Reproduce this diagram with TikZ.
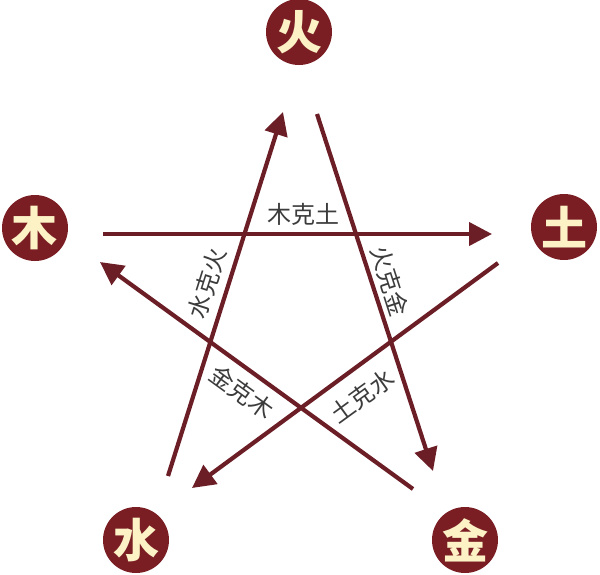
\documentclass[tikz,border=0pt]{standalone}
\usepackage{fontspec}
\newfontfamily\cjk{Noto Sans CJK SC}
\usetikzlibrary{arrows.meta}
\definecolor{circred}{RGB}{122,30,36}
\definecolor{arrred}{RGB}{108,30,38}
\definecolor{cream}{RGB}{252,242,198}
\definecolor{labgrey}{RGB}{60,60,60}
\tikzset{
  elem/.style={circle, fill=circred, minimum size=66pt, inner sep=0pt, text=cream,
    font=\cjk\bfseries\fontsize{46}{46}\selectfont},
  kearrow/.style={draw=arrred, line width=4.2pt, -{Triangle[length=23pt,width=23pt]}},
  kelabel/.style={text=labgrey, inner sep=0pt, font=\cjk\fontsize{24}{24}\selectfont}
}
\begin{document}
\begin{tikzpicture}[x=1pt,y=-1pt]
\useasboundingbox (0,0) rectangle (600,574);
% elements
\node[elem] (huo) at (299,32) {火};
\node[elem] (mu) at (35,228) {木};
\node[elem] (tu) at (564,227) {土};
\node[elem] (shui) at (136,540) {水};
\node[elem] (jin) at (465,540) {金};
% arrow ends
\coordinate (a1s) at (103,234); \coordinate (a1e) at (492,234);
\coordinate (a2s) at (317,114); \coordinate (a2e) at (433,471);
\coordinate (a3s) at (498,263); \coordinate (a3e) at (192,488);
\coordinate (a4s) at (413,489); \coordinate (a4e) at (100,262);
\coordinate (a5s) at (168,476); \coordinate (a5e) at (283,112);
\draw[kearrow] (a1s) -- (a1e);
\draw[kearrow] (a2s) -- (a2e);
\draw[kearrow] (a3s) -- (a3e);
\draw[kearrow] (a4s) -- (a4e);
\draw[kearrow] (a5s) -- (a5e);
% labels
\node[kelabel] (l1) at (303,214) {木克土};
\node[kelabel, rotate=72.5] (l5) at (207,283) {水克火};
\node[kelabel, rotate=-72] (l2) at (390,281) {火克金};
\node[kelabel, rotate=-36] (l4) at (242,392) {金克木};
\node[kelabel, rotate=36] (l3) at (362,396) {土克水};
\end{tikzpicture}
\end{document}
